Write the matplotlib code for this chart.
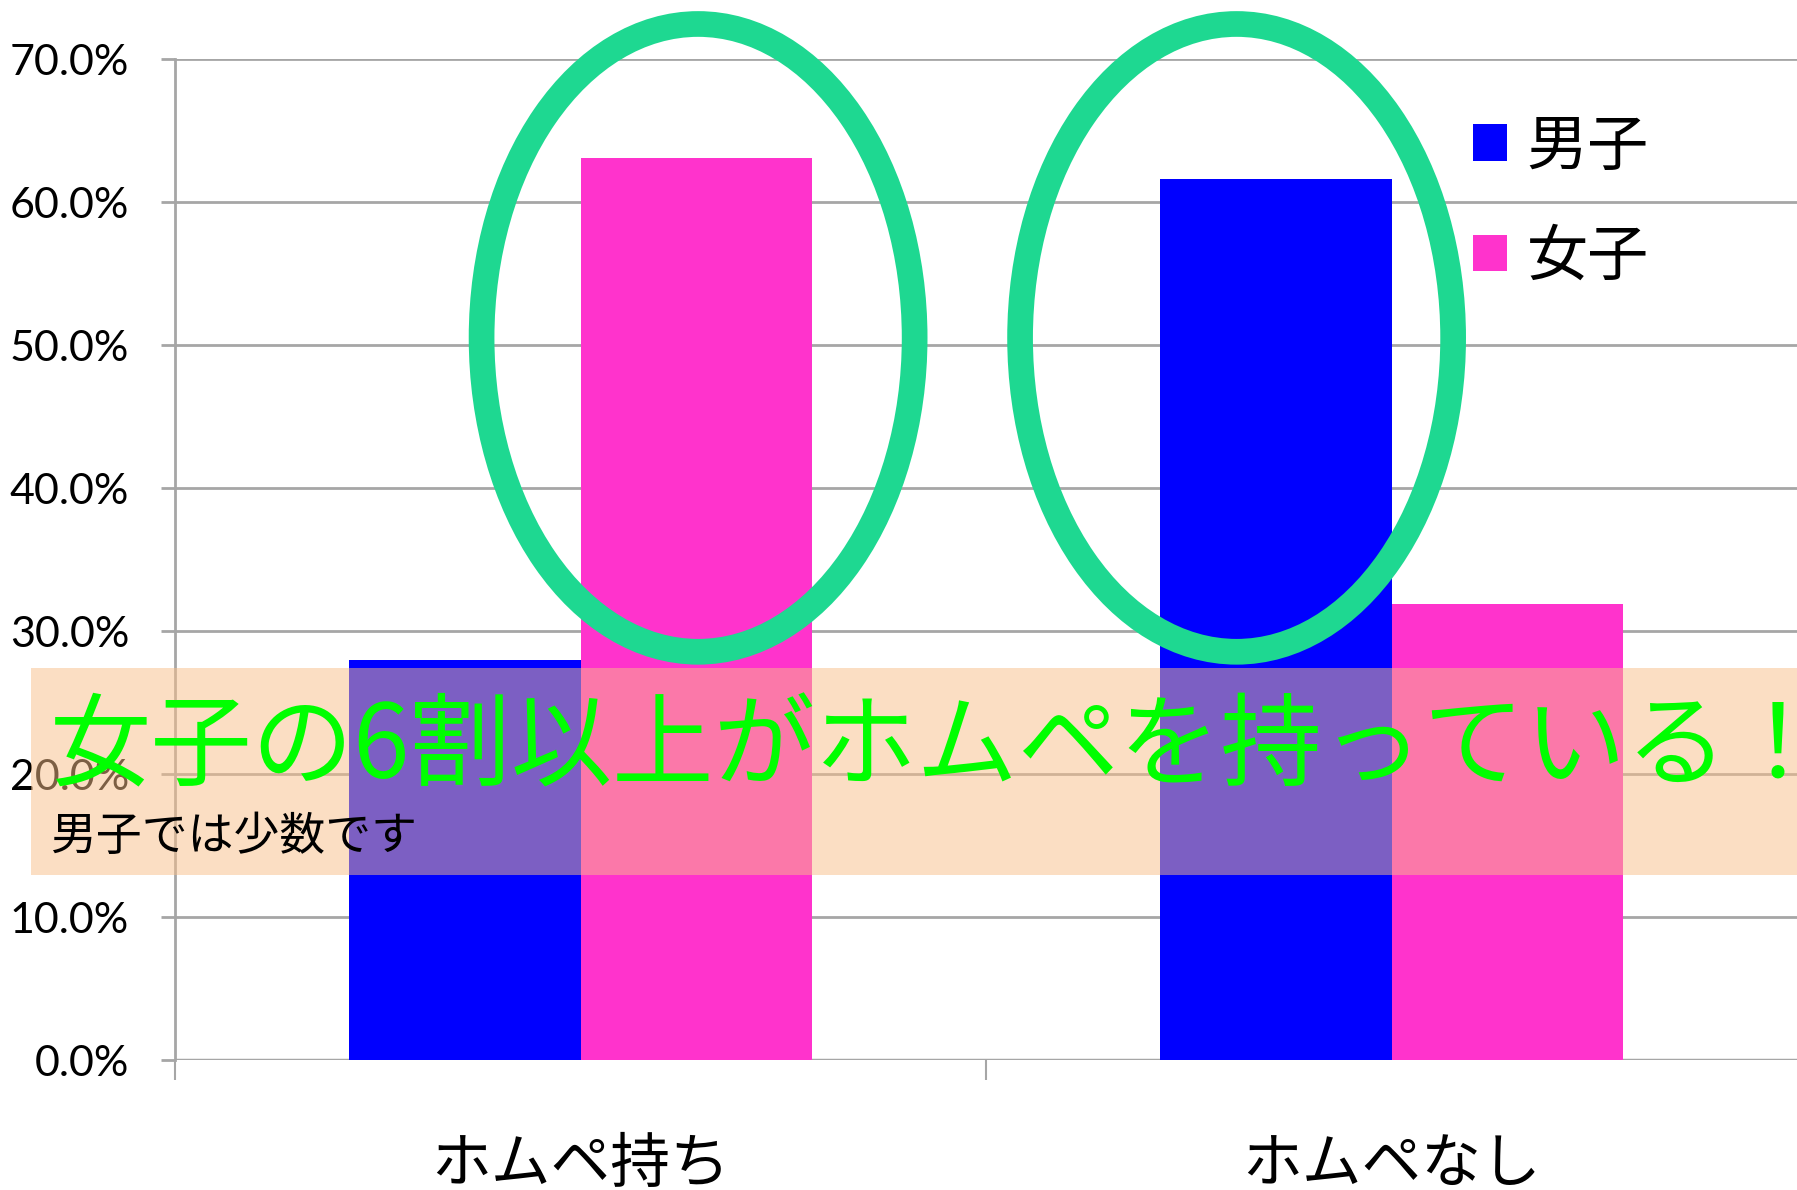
import matplotlib.pyplot as plt
from matplotlib.patches import Ellipse, Rectangle
from matplotlib.ticker import FixedLocator
import numpy as np

# データ
categories = ["ホムペ持ち", "ホムペなし"]
series_names = ["男子", "女子"]
boys = [28.0, 61.6]
girls = [63.1, 31.9]
ytick_values = [0, 10, 20, 30, 40, 50, 60, 70]
ytick_labels = ["0.0%", "10.0%", "20.0%", "30.0%", "40.0%", "50.0%", "60.0%", "70.0%"]
headline = "女子の6割以上がホムペを持っている！"
subline = "男子では少数です"

# 強調の楕円 (中心x, 中心y, 幅, 高さ) - データ座標
ellipse_specs = [(0.145, 50.5, 0.534, 43.9), (0.809, 50.5, 0.534, 43.9)]

JP = ["Noto Sans CJK JP", "DejaVu Sans"]
GRID = "#a6a6a6"
BLUE = "#0000ff"
PINK = "#ff33cc"

fig = plt.figure(figsize=(17.97, 11.90), dpi=100)
ax = fig.add_axes([0.0974, 0.1092, 0.9026, 0.8412])

x = np.arange(len(categories))
w = 0.2857
ax.bar(x - w / 2, boys, w, color=BLUE, label=series_names[0], zorder=2)
ax.bar(x + w / 2, girls, w, color=PINK, label=series_names[1], zorder=2)

ax.set_xlim(-0.5, 1.5)
ax.set_ylim(0, 70)

# グリッドと軸
ax.yaxis.set_major_locator(FixedLocator(ytick_values))
ax.set_yticklabels(ytick_labels, fontsize=31, family=["Lato", "DejaVu Sans"])
ax.grid(axis="y", color=GRID, lw=2, zorder=0)
ax.tick_params(axis="y", length=10, width=2, color=GRID, pad=23)
for s in ["top", "right", "bottom"]:
    ax.spines[s].set_visible(False)
ax.spines["left"].set_color(GRID)
ax.spines["left"].set_linewidth(2)
ax.axhline(0, color=GRID, lw=2.5, zorder=1)

ax.set_xticks(x)
ax.set_xticklabels(categories, fontsize=43, family=JP)
ax.tick_params(axis="x", length=0, pad=54)
ax.set_xticks([-0.5, 0.5], minor=True)
ax.tick_params(axis="x", which="minor", length=14.4, width=1.5, color=GRID)

# 楕円
for cx, cy, ew, eh in ellipse_specs:
    ax.add_patch(Ellipse((cx, cy), ew, eh, fill=False, ec="#1ed891",
                         lw=18.5, zorder=4, clip_on=False))

leg = ax.legend(loc="upper left", bbox_to_anchor=(1473 / 1797, 1 - 116 / 1190),
                bbox_transform=fig.transFigure, frameon=False,
                prop={"family": JP, "size": 44}, handlelength=0.55,
                handleheight=0.55, handletextpad=0.33, labelspacing=0.78,
                borderpad=0, borderaxespad=0)

# 帯
fig.patches.append(Rectangle((31 / 1797, 1 - 875 / 1190), 1 - 31 / 1797, 207 / 1190,
                             transform=fig.transFigure, fc="#f9be88", alpha=0.5,
                             ec="none", zorder=10))
fig.text(50 / 1797, 1 - 749 / 1190, headline, fontsize=73, color="#00ff00",
         family=JP, va="center", ha="left", zorder=11)
fig.text(50 / 1797, 1 - 837 / 1190, subline, fontsize=33, color="black",
         family=JP, va="center", ha="left", zorder=11)

fig.savefig("out.png", dpi=100, facecolor="white")
